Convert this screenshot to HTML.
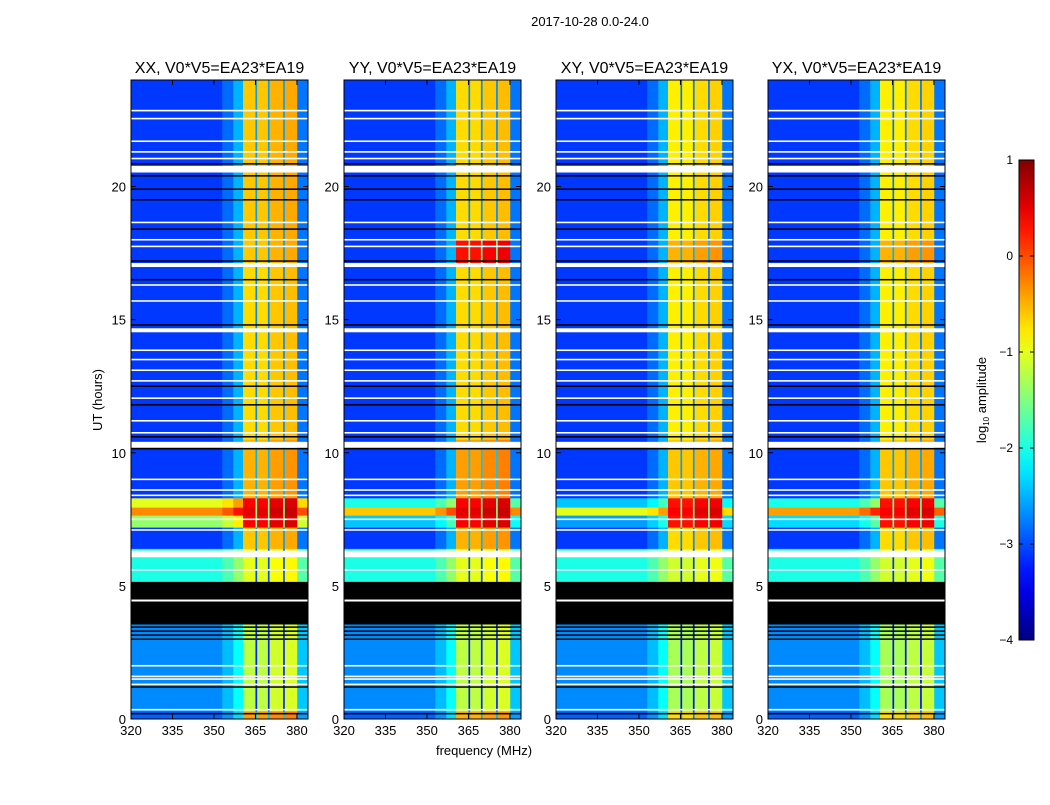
<!DOCTYPE html>
<html><head><meta charset="utf-8">
<style>
body{margin:0;background:#fff;}
svg text{font-family:"Liberation Sans",sans-serif;fill:#000;}
</style></head>
<body>
<svg id="fig" width="1050" height="800" xmlns="http://www.w3.org/2000/svg">
<text x="590" y="26" font-size="13" text-anchor="middle">2017-10-28 0.0-24.0</text>
<text x="484" y="755" font-size="13" text-anchor="middle">frequency (MHz)</text>
<text x="0" y="0" font-size="13" text-anchor="middle" transform="translate(102,400) rotate(-90)">UT (hours)</text>
<text x="0" y="0" font-size="13" text-anchor="middle" transform="translate(986,400) rotate(-90)">log<tspan font-size="8" dy="3">10</tspan><tspan dy="-3"> amplitude</tspan></text>
</svg>
<script>
// ---- data ----
const panelTitles = ["XX, V0*V5=EA23*EA19","YY, V0*V5=EA23*EA19","XY, V0*V5=EA23*EA19","YX, V0*V5=EA23*EA19"];
const xTicks = [320,335,350,365,380];
const yTicks = [0,5,10,15,20];
const cbTicks = [1,0,-1,-2,-3,-4];
const segStart = [0,0.3,3.6,5.1,6.4,7.2,7.65,7.95,8.3,10.5,17.0,18.0];
const segEnd   = [0.3,3.6,5.1,6.4,7.2,7.65,7.95,8.3,10.5,17.0,18.0,24];
const bandXX = [-0.4,-1.2,-1.0,-1.0,-0.6,0.4,0.5,0.4,-0.5,-0.7,-0.6,-0.6];
const bandYY = [-0.5,-1.2,-1.0,-1.0,-0.5,0.4,0.5,0.4,-0.4,-0.7,0.3,-0.7];
const bandXY = [-0.7,-1.3,-1.0,-1.1,-0.7,0.3,0.4,0.3,-0.6,-0.8,-0.5,-0.8];
const bandYX = [-0.7,-1.3,-1.0,-1.1,-0.7,0.3,0.4,0.3,-0.6,-0.8,-0.5,-0.8];
const outXX = [-2.9,-2.7,-2.5,-2.0,-3.1,-1.4,-0.3,-1.0,-3.1,-3.1,-3.1,-3.1];
const outYY = [-2.9,-2.7,-2.5,-2.0,-3.1,-2.4,-0.6,-2.0,-3.1,-3.1,-3.1,-3.1];
const outXY = [-2.9,-2.7,-2.5,-2.0,-3.1,-2.6,-1.0,-2.4,-3.1,-3.1,-3.1,-3.1];
const outYX = [-2.9,-2.7,-2.5,-2.0,-3.1,-2.3,-0.4,-2.0,-3.1,-3.1,-3.1,-3.1];
const subBandStart = [360.5,365.5,370.0,375.5];
const subBandEnd   = [365.0,369.5,375.0,380.0];
const subBandOffset = [0,0,0.1,0.15];
const whiteRows = [22.85,22.55,21.7,21.3,21.05,20.65,18.65,18.0,17.75,17.05,16.3,15.7,14.6,13.85,13.5,13.1,12.7,12.05,11.2,10.75,10.3,9.0,8.6,8.4,7.5,7.1,6.2,5.6,4.45,3.0,2.0,1.6,1.5,1.3,0.35];
const whiteWidth = [0.06,0.06,0.06,0.06,0.06,0.25,0.06,0.06,0.06,0.15,0.06,0.06,0.15,0.06,0.06,0.06,0.06,0.06,0.06,0.06,0.22,0.06,0.06,0.06,0.06,0.06,0.25,0.06,0.06,0.06,0.06,0.06,0.06,0.06,0.06];
const blackRows = [20.85,20.4,19.9,19.5,18.4,17.2,16.5,14.8,12.5,11.8,10.6,10.15,3.3,3.45,3.15,3.0,1.2,0.2];
const blackBlockStart = [3.55];
const blackBlockEnd = [5.15];
// ---- layout ----
const panelX0 = [131,344,556,768], panelW = 177, pTop = 80, pBot = 719;
const fMin = 320, fMax = 384, hMin = 0, hMax = 24;
const NS = "http://www.w3.org/2000/svg";
const svg = document.getElementById('fig');
function mk(tag, attrs, parent){const e=document.createElementNS(NS,tag);for(const k in attrs)e.setAttribute(k,attrs[k]);(parent||svg).appendChild(e);return e;}
function jet(v){let t=(v+4)/5;t=Math.max(0,Math.min(1,t));
 const f=x=>Math.max(0,Math.min(1,x));
 const r=f(1.5-Math.abs(4*t-3)),g=f(1.5-Math.abs(4*t-2)),b=f(1.5-Math.abs(4*t-1));
 return `rgb(${Math.round(r*255)},${Math.round(g*255)},${Math.round(b*255)})`;}
const bands=[bandXX,bandYY,bandXY,bandYX], outs=[outXX,outYY,outXY,outYX];
panelTitles.forEach((title,p)=>{
 const x0=panelX0[p];
 const xs=f=>x0+(f-fMin)/(fMax-fMin)*panelW;
 const ys=h=>pBot-(h-hMin)/(hMax-hMin)*(pBot-pTop);
 const g=mk('g',{});
 
 
 const t=mk('text',{x:x0+panelW/2,y:73,'font-size':16,'text-anchor':'middle'},g);t.textContent=title;
 
 
 segStart.forEach((s,i)=>{
  const y1=ys(segEnd[i]),y2=ys(s),h=y2-y1;
  const o=outs[p][i],b=bands[p][i];
  const cells=[[fMin,353,o],[353,357,o+0.25],[357,360.5,o+0.6],[380,fMax,o+0.3]];
  subBandStart.forEach((sb,k)=>cells.push([sb,subBandEnd[k],b+subBandOffset[k]]));
  [365,369.5,375].forEach(gf=>cells.push([gf,gf+0.5,b-2.0]));
  cells.forEach(c=>{
   const r=mk('rect',{x:xs(c[0]),y:y1,width:xs(c[1])-xs(c[0])+0.3,height:h+0.3,fill:jet(c[2])},g);
   
   
  });
 });
 whiteRows.forEach((w,i)=>{
  const r=mk('rect',{x:x0,y:ys(w+whiteWidth[i]/2),width:panelW,height:Math.max(1.5,whiteWidth[i]*26.6),fill:'#fff'},g);
  
  
 });
 blackRows.forEach(bk=>{
  const r=mk('rect',{x:x0,y:ys(bk)-0.75,width:panelW,height:1.5,fill:'#000'},g);
  
  
 });
 blackBlockStart.forEach((s,i)=>{
  const r=mk('rect',{x:x0,y:ys(blackBlockEnd[i]),width:panelW,height:ys(s)-ys(blackBlockEnd[i]),fill:'#000'},g);
  
  
  mk('rect',{x:x0,y:ys(4.45)-1,width:panelW,height:2,fill:'#fff'},g);
 });
 mk('rect',{x:x0,y:pTop,width:panelW,height:pBot-pTop,fill:'none',stroke:'#000','stroke-width':1},g);
 xTicks.forEach(v=>{
  const x=xs(v);
  mk('line',{x1:x,x2:x,y1:pBot,y2:pBot-5,stroke:'#000'},g);
  mk('line',{x1:x,x2:x,y1:pTop,y2:pTop+5,stroke:'#000'},g);
  const tx=mk('text',{x:x,y:pBot+16,'font-size':13,'text-anchor':'middle'},g);tx.textContent=v;
  
  
 });
 yTicks.forEach(v=>{
  const y=ys(v);
  mk('line',{x1:x0,x2:x0+5,y1:y,y2:y,stroke:'#000'},g);
  mk('line',{x1:x0+panelW,x2:x0+panelW-5,y1:y,y2:y,stroke:'#000'},g);
  const ty=mk('text',{x:x0-5,y:y+5,'font-size':13,'text-anchor':'end'},g);ty.textContent=v;
  
  
 });
});
// colorbar
const cbX=1019,cbW=15,cbTop=160,cbBot=640;
const cy=v=>cbBot-(v+4)/5*(cbBot-cbTop);
const cbg=mk('g',{});


const defs=mk('defs',{},cbg);
const lg=mk('linearGradient',{id:'jetg',x1:0,y1:1,x2:0,y2:0},defs);
for(let i=0;i<=20;i++){mk('stop',{offset:i/20,'stop-color':jet(-4+5*i/20)},lg);}
mk('rect',{x:cbX,y:cbTop,width:cbW,height:cbBot-cbTop,fill:'url(#jetg)',stroke:'#000'},cbg);
cbTicks.forEach(v=>{
 const y=cy(v);
 mk('line',{x1:cbX,x2:cbX+4,y1:y,y2:y,stroke:'#000'},cbg);
 mk('line',{x1:cbX+cbW,x2:cbX+cbW-4,y1:y,y2:y,stroke:'#000'},cbg);
 const t=mk('text',{x:1013,y:y+4,'font-size':12,'text-anchor':'end'},cbg);t.textContent=(v<0?'\u2212'+(-v):v);
 
 
});
</script>
</body></html>
